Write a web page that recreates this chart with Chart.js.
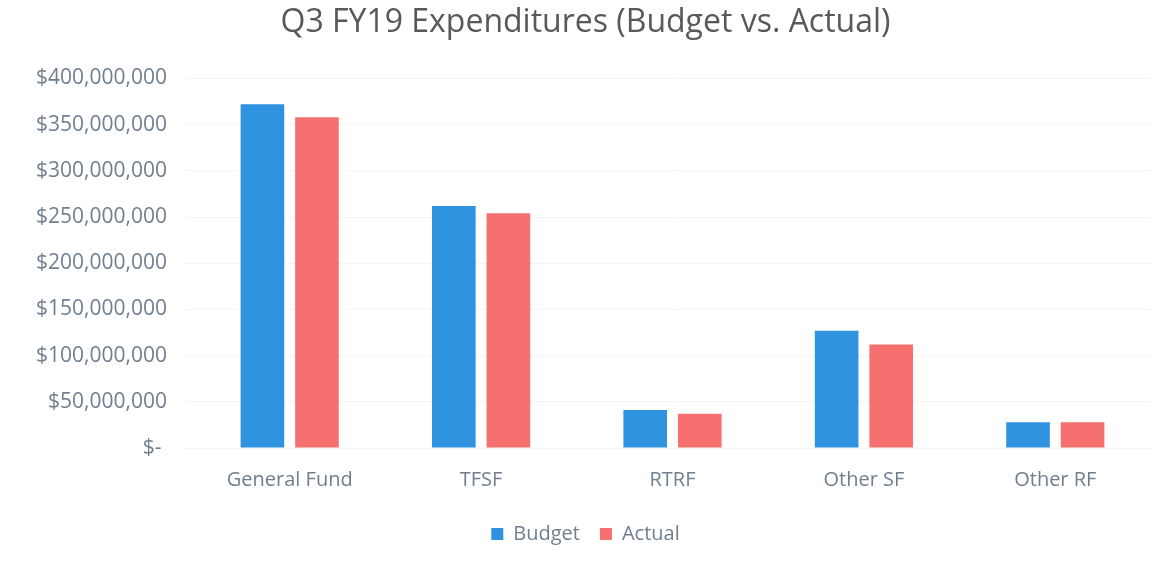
<!DOCTYPE html>
<html>
<head>
<meta charset="utf-8">
<script src="https://cdn.jsdelivr.net/npm/chart.js@4"></script>
<style>
  html, body { margin: 0; padding: 0; background: #fff; }
  #wrap { width: 1171px; height: 571px; }
</style>
</head>
<body>
<div id="wrap"><canvas id="chart"></canvas></div>
<script>
// Chart data
const funds = ["General Fund", "TFSF", "RTRF", "Other SF", "Other RF"];
const budget = [372000000, 262000000, 41000000, 127000000, 28000000];
const actual = [358000000, 254000000, 37000000, 112000000, 28000000];
const yTicks = [0, 50000000, 100000000, 150000000, 200000000, 250000000, 300000000, 350000000, 400000000];

const textColor = "#6f7f8f";
const fontFamily = "'Open Sans', 'Noto Sans', sans-serif";

function moneyLabel(v) {
    if (v === 0) return "$- ";
    return "$" + v.toLocaleString("en-US");
}

const ctx = document.getElementById("chart").getContext("2d");
new Chart(ctx, {
    type: "bar",
    data: {
        labels: funds,
        datasets: [
            { label: "Budget", data: budget, backgroundColor: "#2f93e0" },
            { label: "Actual", data: actual, backgroundColor: "#f67070" }
        ]
    },
    options: {
        responsive: true,
        maintainAspectRatio: false,
        animation: false,
        layout: { padding: { left: 20, right: 20, top: 4, bottom: 17 } },
        datasets: { bar: { categoryPercentage: 0.57, barPercentage: 0.8 } },
        plugins: {
            title: {
                display: true,
                text: "Q3 FY19 Expenditures (Budget vs. Actual)",
                color: "#595959",
                font: { family: fontFamily, size: 32, weight: "normal" },
                padding: { top: 0, bottom: 36 }
            },
            legend: {
                position: "bottom",
                labels: {
                    color: textColor,
                    font: { family: fontFamily, size: 20 },
                    boxWidth: 12,
                    boxHeight: 12,
                    padding: 20
                }
            },
            tooltip: { enabled: false }
        },
        scales: {
            x: {
                grid: { display: false },
                border: { display: false },
                ticks: { color: textColor, font: { family: fontFamily, size: 20 }, padding: 12 }
            },
            y: {
                min: 0,
                max: 400000000,
                afterBuildTicks: axis => { axis.ticks = yTicks.map(v => ({ value: v })); },
                afterFit: axis => { axis.width = 174; },
                grid: { color: "#f4f4f4" },
                border: { display: false },
                ticks: {
                    color: textColor,
                    font: { family: fontFamily, size: 21 },
                    padding: 19,
                    callback: v => moneyLabel(v)
                }
            }
        }
    }
});
</script>
</body>
</html>
